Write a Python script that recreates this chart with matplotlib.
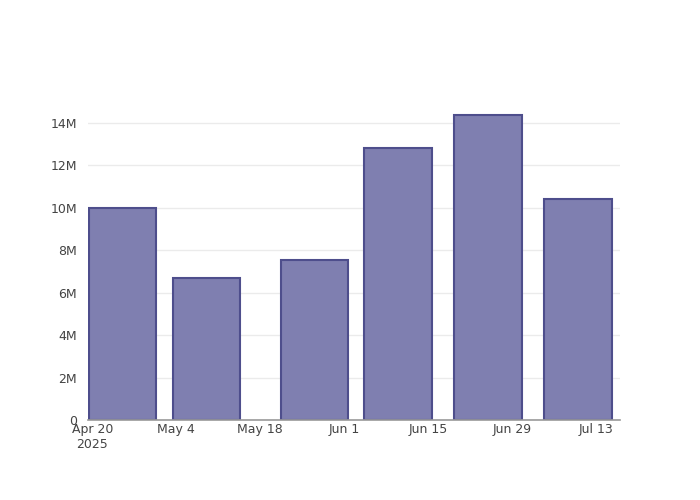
import numpy as np
import matplotlib
matplotlib.use("Agg")
import matplotlib.pyplot as plt
import matplotlib.dates as mdates
from matplotlib.ticker import FuncFormatter
import datetime as dt

# data
dates = ["2025-04-25", "2025-05-09", "2025-05-27", "2025-06-10", "2025-06-25", "2025-07-10"]
values = [10.0e6, 6.69e6, 7.55e6, 12.8e6, 14.35e6, 10.42e6]
tick_dates = ["2025-04-20", "2025-05-04", "2025-05-18", "2025-06-01", "2025-06-15", "2025-06-29", "2025-07-13"]
tick_labels = ["Apr 20\n2025", "May 4", "May 18", "Jun 1", "Jun 15", "Jun 29", "Jul 13"]

x = mdates.date2num([dt.datetime.fromisoformat(d) for d in dates])
xt = mdates.date2num([dt.datetime.fromisoformat(d) for d in tick_dates])
width = 0.8 * np.min(np.diff(x))

fig = plt.figure(figsize=(7, 5), dpi=100)
ax = fig.add_axes([88/700, 80/500, 532/700, 320/500])

ax.bar(x, values, width=width, color="#7f7fb0", edgecolor="#4e4e8c", linewidth=1.5, zorder=3)

ax.set_xlim(x[0] - width/2 - 0.1, xt[-1] + 4.0)
ax.set_ylim(0, max(values) * 1.05)
ax.set_xticks(xt)
ax.set_xticklabels(tick_labels)
ax.set_yticks(np.arange(0, 15e6, 2e6))
ax.yaxis.set_major_formatter(FuncFormatter(lambda v, p: "0" if v == 0 else f"{v/1e6:.0f}M"))

ax.grid(axis="y", color="#ebebeb", linewidth=1, zorder=0)
for s in ["top", "right", "left"]:
    ax.spines[s].set_visible(False)
ax.spines["bottom"].set_color("#999999")
ax.spines["bottom"].set_linewidth(1.2)
ax.spines["bottom"].set_zorder(4)
ax.tick_params(length=0, labelsize=9, colors="#444444")
ax.tick_params(axis="x", pad=2)
ax.tick_params(axis="y", pad=8)
for lab in ax.get_xticklabels():
    lab.set_linespacing(1.2)

fig.savefig("out.png", dpi=100)
